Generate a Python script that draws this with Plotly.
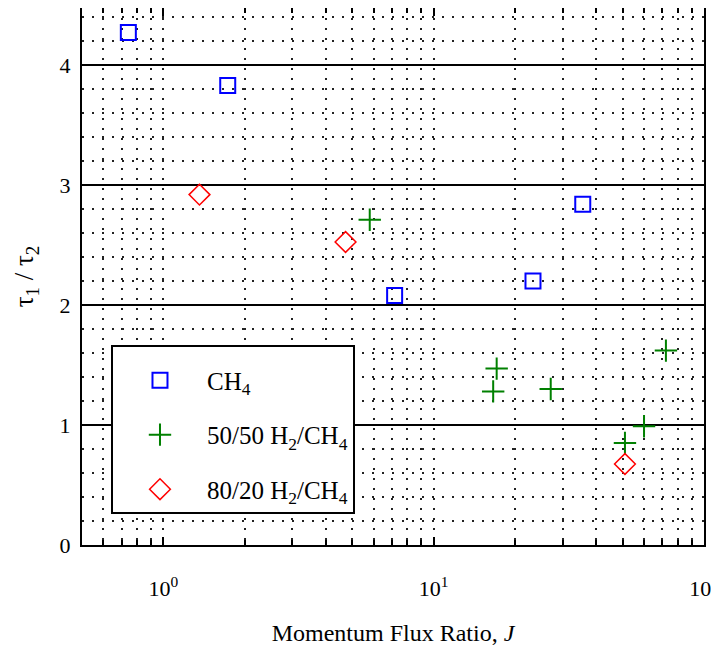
import numpy as np
import plotly.graph_objects as go

# Data
ch4_J = [0.742, 1.73, 7.17, 23.3, 35.6]
ch4_tau = [4.27, 3.83, 2.08, 2.20, 2.84]

h50_J = [5.8, 17.1, 16.6, 27.1, 72.3, 60.0, 51.0]
h50_tau = [2.71, 1.47, 1.28, 1.30, 1.62, 0.99, 0.85]

h80_J = [1.36, 4.72, 51.0]
h80_tau = [2.92, 2.525, 0.675]

x_tickvals = [1, 10, 100]
x_ticktext = ["10<sup>0</sup>", "10<sup>1</sup>", "10<sup>2</sup>"]
x_minor = [0.6, 0.7, 0.8, 0.9] + [k for k in range(2, 10)] + [10 * k for k in range(2, 10)]
y_tickvals = [0, 1, 2, 3, 4]

FONT = "Liberation Serif, Times New Roman, serif"

fig = go.Figure()
fig.add_trace(go.Scatter(
    x=ch4_J, y=ch4_tau, mode="markers", name="CH<sub>4</sub>",
    legendgroup="a",
    marker=dict(symbol="square-open", size=15, color="#0000ff", line=dict(width=2, color="#0000ff")),
))
fig.add_trace(go.Scatter(
    x=h50_J, y=h50_tau, mode="markers", name="50/50 H<sub>2</sub>/CH<sub>4</sub>",
    legendgroup="b",
    marker=dict(symbol="cross-thin-open", size=16, color="#008000", line=dict(width=2, color="#008000")),
))
fig.add_trace(go.Scatter(
    x=h80_J, y=h80_tau, mode="markers", name="80/20 H<sub>2</sub>/CH<sub>4</sub>",
    legendgroup="c",
    marker=dict(symbol="diamond-open", size=16, color="#ff0000", line=dict(width=1.5, color="#ff0000")),
))

# the page body adds an 8px offset; figure is sized to fill the rest of the window
fig.update_layout(
    width=711, height=641,
    margin=dict(l=74, r=15, t=0, b=104),
    plot_bgcolor="white", paper_bgcolor="white",
    font=dict(family=FONT, color="black", size=20),
    showlegend=True,
    legend=dict(
        x=0.0466, y=0.3724, xanchor="left", yanchor="top",
        bgcolor="white", bordercolor="black", borderwidth=2,
        font=dict(family=FONT, size=25, color="black"),
        title=dict(text=" ", font=dict(size=8)),
        tracegroupgap=19, itemwidth=84,
    ),
    xaxis=dict(
        type="log", range=[np.log10(0.5), 2], automargin=False,
        tickvals=x_tickvals, ticktext=x_ticktext,
        tickfont=dict(family=FONT, size=22),
        ticks="inside", ticklen=8, tickwidth=1.5, tickcolor="black",
        ticklabelstandoff=23,
        showgrid=True, gridcolor="#222", gridwidth=1.5, griddash="2px,8px",
        minor=dict(tickvals=x_minor, ticks="inside", ticklen=5, tickwidth=1.5, tickcolor="black",
                   showgrid=True, gridcolor="#222", gridwidth=1.5, griddash="2px,8px"),
        showline=True, linecolor="black", linewidth=2, mirror="allticks",
        zeroline=False,
        title=dict(text="Momentum Flux Ratio, <i>J</i>", font=dict(family=FONT, size=24), standoff=24),
    ),
    yaxis=dict(
        range=[0, 4.475], tickvals=y_tickvals, automargin=False,
        tickfont=dict(family=FONT, size=22),
        ticks="", ticklabelstandoff=5,
        showgrid=True, gridcolor="black", gridwidth=1.5,
        minor=dict(dtick=0.2, showgrid=True, gridcolor="#222", gridwidth=1.5, griddash="2px,8px"),
        showline=True, linecolor="black", linewidth=2, mirror=True,
        zeroline=False,
        title=dict(text="τ<sub>1</sub> / τ<sub>2</sub>", font=dict(family=FONT, size=27), standoff=18),
    ),
)

fig.write_html("out.html")
